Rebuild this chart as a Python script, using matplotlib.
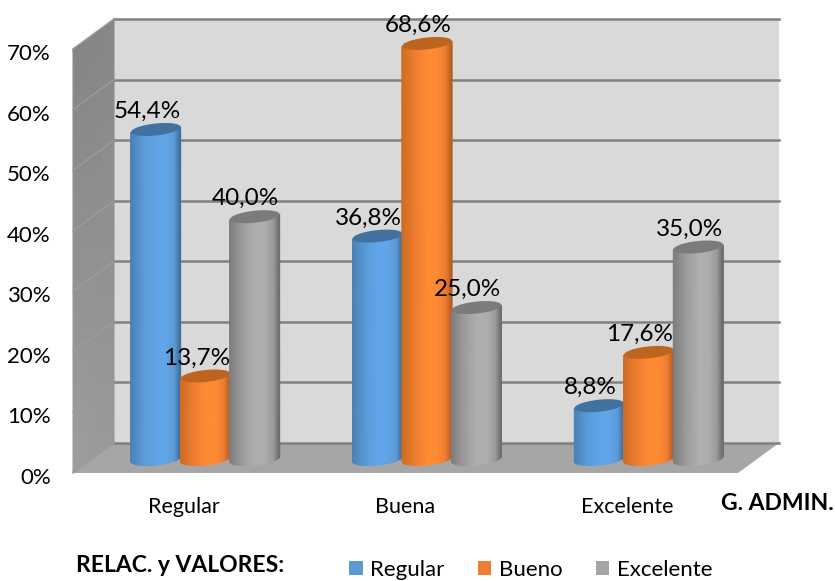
import numpy as np
import matplotlib
matplotlib.use("Agg")
import matplotlib.pyplot as plt
from matplotlib.colors import LinearSegmentedColormap
from matplotlib.patches import Patch, Polygon
from matplotlib.transforms import ScaledTranslation

plt.rcParams['font.family'] = ['Lato', 'DejaVu Sans']

# datos
categorias = ["Regular", "Buena", "Excelente"]
series = ["Regular", "Bueno", "Excelente"]
regular = [54.4, 36.8, 8.8]
bueno = [13.7, 68.6, 17.6]
excelente = [40.0, 25.0, 35.0]
marcas_y = [0, 10, 20, 30, 40, 50, 60, 70]

# colores: borde izq, medio, centro, borde der, tapa
colores = [("#4a82b8", "#5b9ad6", "#60a5e8", "#3f709f", "#41729f"),
           ("#cf6c24", "#ee7d30", "#ff8a34", "#b85f20", "#bd6420"),
           ("#7e7e7e", "#9c9c9c", "#aeaeae", "#6e6e6e", "#7b7b7b")]
leyenda = ["#5b9bd5", "#ed7d31", "#a5a5a5"]

W, H = 835, 581
fig = plt.figure(figsize=(W / 100, H / 100), dpi=100)
ax = fig.add_axes([73 / W, 1 - 473 / H, 665 / W, 424 / H])
ax.set_xlim(-0.5, 2.5)
ax.set_ylim(0, 70)

# un pixel en unidades de datos
px = 3 / 665
py = 70 / 424
fondo_x, fondo_y = 41 * px, 30 * py  # profundidad de la caja
x0, x1 = -0.5, 2.5

# paredes
ax.add_patch(Polygon([(x0 + fondo_x, fondo_y), (x1 + fondo_x, fondo_y),
                      (x1 + fondo_x, 70 + fondo_y), (x0 + fondo_x, 70 + fondo_y)],
                     fc="#d9d9d9", ec="none", clip_on=False, zorder=1))
ax.pcolormesh([[x0, x0 + fondo_x], [x0, x0 + fondo_x]],
              [[0, fondo_y], [70, 70 + fondo_y]],
              [[0.62, 0.60], [0.52, 0.53]], cmap="gray", vmin=0, vmax=1,
              shading="gouraud", clip_on=False, zorder=1)
ax.add_patch(Polygon([(x0, 0), (x1, 0), (x1 + fondo_x, fondo_y), (x0 + fondo_x, fondo_y)],
                     fc="#a6a6a6", ec="none", clip_on=False, zorder=1))

# rejilla
for v in marcas_y:
    ax.plot([x0 + fondo_x, x1 + fondo_x], [v + fondo_y, v + fondo_y], color="#808080",
            lw=1.8, clip_on=False, zorder=2)
    ax.plot([x0, x0 + fondo_x], [v, v + fondo_y], color="#9c9c9c", lw=1.0,
            clip_on=False, zorder=2)

# columnas
ancho = 49.5 * px
media_alto = 6 * py
sesgo = 2.5 * py
base = 14 * py
t = np.linspace(np.pi, 2 * np.pi, 41)
for s, valores in enumerate([regular, bueno, excelente]):
    izq, medio, centro, der, tapa = colores[s]
    cmap = LinearSegmentedColormap.from_list(
        "c", [(0, izq), (0.25, medio), (0.5, centro), (0.72, centro), (0.88, medio), (1, der)])
    for c, v in enumerate(valores):
        cx = c + (s - 1) * ancho + 21.5 * px
        xs = cx + ancho / 2 * np.cos(t)
        ys = media_alto * np.sin(t) + sesgo * np.cos(t)
        X = np.vstack([xs, xs])
        Y = np.vstack([base + ys, base + v + ys])
        C = np.vstack([(np.cos(t) + 1) / 2] * 2)
        z = 3 + s * 0.1
        ax.pcolormesh(X, Y, C, cmap=cmap, vmin=0, vmax=1, shading="gouraud",
                      clip_on=False, zorder=z)
        t2 = np.linspace(0, 2 * np.pi, 80)
        ax.fill(cx + ancho / 2 * np.cos(t2),
                base + v + media_alto * np.sin(t2) + sesgo * np.cos(t2),
                color=tapa, lw=0, clip_on=False, zorder=z)
        ax.annotate(f"{v:.1f}".replace(".", ",") + "%", (cx, base + v),
                    xytext=(-6.5, 13), textcoords="offset points",
                    ha="center", va="center", fontsize=17.5, color="black", zorder=5,
                    annotation_clip=False)

# ejes
for lado in ax.spines.values():
    lado.set_visible(False)
ax.patch.set_visible(False)
ax.set_xticks(range(3))
ax.set_xticklabels(categorias, fontsize=15.5)
ax.set_yticks(marcas_y)
ax.set_yticklabels([f"{v}%" for v in marcas_y], fontsize=16)
ax.tick_params(axis="x", length=0, pad=17.5)
ax.tick_params(axis="y", length=0, pad=16)
baja = ScaledTranslation(0, -3 / 100, fig.dpi_scale_trans)
for lab in ax.get_yticklabels():
    lab.set_transform(lab.get_transform() + baja)

fig.text(777 / W, 1 - 504 / H, "G. ADMIN.", fontsize=16.5, fontweight="bold",
         ha="center", va="center")
fig.text(180.5 / W, 1 - 565 / H, "RELAC. y VALORES:", fontsize=16.5, fontweight="bold",
         ha="center", va="center")

mano = [Patch(fc=col, ec="none") for col in leyenda]
fig.legend(mano, series, ncol=3, loc="center", bbox_to_anchor=(531 / W, 1 - 570 / H),
           frameon=False, fontsize=16, handlelength=0.6, handleheight=0.6,
           handletextpad=0.35, columnspacing=1.5, borderpad=0, borderaxespad=0)

fig.savefig("out.png", dpi=100)
